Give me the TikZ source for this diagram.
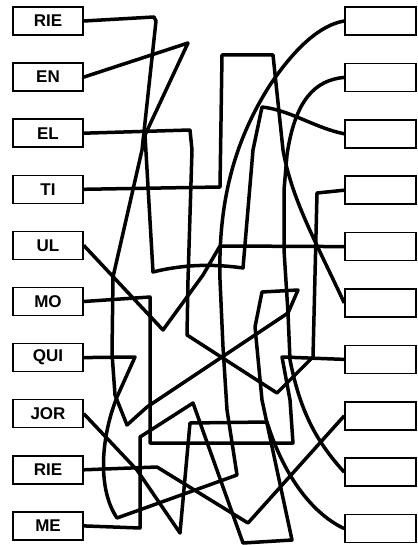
\documentclass[tikz,border=0pt]{standalone}
\usepackage{fontspec}
\setsansfont{Liberation Sans}
\tikzset{
  syl/.style={draw, line width=1.5pt, minimum width=70pt, minimum height=28pt,
    inner sep=0pt, font=\sffamily\bfseries\fontsize{17}{17}\selectfont},
  blank/.style={draw, line width=1.5pt, minimum width=71pt, minimum height=28pt, inner sep=0pt},
  tangle/.style={line width=3.5pt, line join=round}
}
\begin{document}
\begin{tikzpicture}[x=1pt,y=-1pt]
\useasboundingbox (0,0) rectangle (417,545);

% syllables on the left, empty boxes on the right
\foreach \syl [count=\i] in {RIE,EN,EL,TI,UL,MO,QUI,JOR,RIE,ME} {
    \node[syl] (L\i) at (48,{21+(\i-1)*56.1}) {\syl};
    \node[blank] (R\i) at (380.5,{21+(\i-1)*56.4}) {};
}

% the tangled lines
\draw[tangle] (L1.east) -- (154,17) -- (156,21) -- (142,150) -- (113,277) -- (112,353)
    -- (115,395) -- (127,425) -- (147,407) -- (288,313) -- (284,250) -- (284,190) -- (287,155)
    .. controls (295,100) and (315,80) .. (R2.west);
\draw[tangle] (L2.east) -- (188,43) -- (145,135) -- (153,272) .. controls (185,264) and (215,264) .. (243,268)
    -- (253,150) -- (262,107) .. controls (290,110) and (315,128) .. (R3.west);
\draw[tangle] (L3.east) -- (190,130) -- (192,150) -- (188,280) -- (187,335) -- (277,393)
    -- (313,357) -- (317,193) -- (R4.west);
\draw[tangle] (L4.east) -- (220,187) -- (222,55) -- (273,55) -- (283,150)
    .. controls (292,200) and (315,240) .. (R6.west);
\draw[tangle] (L5.east) -- (163,330) -- (203,275) -- (220,246) -- (R5.west);
\draw[tangle] (L6.east) -- (150,297) -- (150,443) -- (293,443) -- (290,400) -- (282,357) -- (R7.west);
\draw[tangle] (L7.east) -- (135,357) -- (117,397) .. controls (100,440) and (98,490) .. (117,518)
    -- (237,475) -- (227,410) -- (223,347) -- (220,280) .. controls (218,200) and (235,140) .. (270,85)
    .. controls (295,48) and (320,25) .. (R1.west);
\draw[tangle] (L8.east) -- (137,470) -- (180,533) -- (190,423) -- (267,422)
    .. controls (285,480) and (315,515) .. (R10.west);
\draw[tangle] (L9.east) -- (157,467) -- (248,523) -- (R8.west);
\draw[tangle] (L10.east) -- (140,528) -- (140,437) -- (193,403) -- (243,543) -- (292,540)
    -- (262,400) -- (255,327) -- (262,292) -- (298,290) -- (288,313);
\draw[tangle] (R9.west) .. controls (315,440) and (300,410) .. (290,360) -- (288,313);
\end{tikzpicture}
\end{document}
